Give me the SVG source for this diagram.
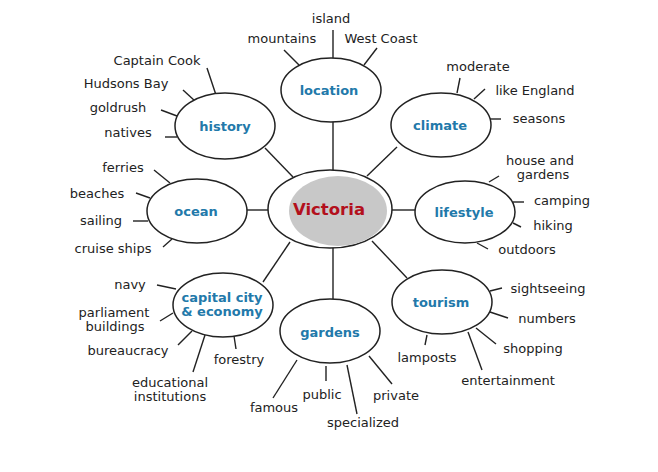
<svg xmlns="http://www.w3.org/2000/svg" width="658" height="472" viewBox="0 0 658 472">
<style>
.ln{stroke:#222;stroke-width:1.4;fill:none}
.hub{fill:#fff;stroke:#222;stroke-width:1.5}
.hl{font-family:"DejaVu Sans",Verdana,sans-serif;font-size:13px;font-weight:bold;fill:#2279aa;text-anchor:middle}
.lf{font-family:"DejaVu Sans",Verdana,sans-serif;font-size:13px;fill:#222;text-anchor:middle}
</style>
<rect width="658" height="472" fill="#fff"/>
<g id="connectors" class="ln">
<line x1="333" y1="121" x2="333" y2="171"/>
<line x1="265" y1="148" x2="293" y2="177"/>
<line x1="397" y1="147" x2="367" y2="176"/>
<line x1="247" y1="210" x2="269" y2="210"/>
<line x1="391" y1="210" x2="415" y2="210"/>
<line x1="263" y1="282" x2="290" y2="242"/>
<line x1="333" y1="247" x2="333" y2="300"/>
<line x1="407" y1="278" x2="372" y2="241"/>
<line x1="333" y1="30" x2="333" y2="58"/>
<line x1="284" y1="50" x2="299" y2="65"/>
<line x1="377" y1="48" x2="364" y2="65"/>
<line x1="207" y1="68" x2="216" y2="95"/>
<line x1="183" y1="90" x2="195" y2="101"/>
<line x1="161" y1="110" x2="177" y2="116"/>
<line x1="165" y1="137" x2="177" y2="137"/>
<line x1="460" y1="78" x2="457" y2="93"/>
<line x1="485" y1="89" x2="474" y2="99"/>
<line x1="490" y1="119" x2="501" y2="119"/>
<line x1="154" y1="170" x2="170" y2="183"/>
<line x1="136" y1="193" x2="150" y2="198"/>
<line x1="133" y1="221" x2="148" y2="221"/>
<line x1="163" y1="247" x2="172" y2="239"/>
<line x1="489" y1="182" x2="499" y2="176"/>
<line x1="513" y1="202" x2="524" y2="202"/>
<line x1="513" y1="223" x2="521" y2="227"/>
<line x1="477" y1="243" x2="488" y2="249"/>
<line x1="157" y1="285" x2="176" y2="289"/>
<line x1="160" y1="321" x2="173" y2="313"/>
<line x1="178" y1="345" x2="192" y2="331"/>
<line x1="193" y1="372" x2="205" y2="335"/>
<line x1="236" y1="349" x2="234" y2="336"/>
<line x1="297" y1="360" x2="273" y2="398"/>
<line x1="326" y1="366" x2="326" y2="381"/>
<line x1="347" y1="365" x2="357" y2="414"/>
<line x1="369" y1="356" x2="392" y2="384"/>
<line x1="490" y1="291" x2="502" y2="288"/>
<line x1="490" y1="312" x2="508" y2="318"/>
<line x1="476" y1="328" x2="496" y2="344"/>
<line x1="468" y1="332" x2="482" y2="370"/>
<line x1="427" y1="335" x2="425" y2="345"/>
</g>
<g id="victoria">
<ellipse class="hub" cx="330" cy="209" rx="62" ry="39"/>
<ellipse cx="338" cy="211" rx="49" ry="35" fill="#c8c8c8"/>
<text x="329" y="215" font-family="DejaVu Sans,Verdana,sans-serif" font-size="16.5" font-weight="bold" fill="#b3101c" text-anchor="middle">Victoria</text>
</g>
<g id="location">
<ellipse class="hub" cx="331" cy="90" rx="50" ry="32"/>
<text class="hl" x="329" y="95">location</text>
<text class="lf" x="331" y="23">island</text>
<text class="lf" x="282" y="43">mountains</text>
<text class="lf" x="381" y="43">West Coast</text>
</g>
<g id="history">
<ellipse class="hub" cx="225" cy="126" rx="50" ry="33"/>
<text class="hl" x="225" y="131">history</text>
<text class="lf" x="157" y="65">Captain Cook</text>
<text class="lf" x="126" y="88">Hudsons Bay</text>
<text class="lf" x="118" y="112">goldrush</text>
<text class="lf" x="128" y="137">natives</text>
</g>
<g id="climate">
<ellipse class="hub" cx="441" cy="125" rx="50" ry="32"/>
<text class="hl" x="440" y="130">climate</text>
<text class="lf" x="478" y="71">moderate</text>
<text class="lf" x="535" y="95">like England</text>
<text class="lf" x="539" y="123">seasons</text>
</g>
<g id="ocean">
<ellipse class="hub" cx="197" cy="211" rx="50" ry="32"/>
<text class="hl" x="196" y="216">ocean</text>
<text class="lf" x="123" y="172">ferries</text>
<text class="lf" x="97" y="198">beaches</text>
<text class="lf" x="101" y="225">sailing</text>
<text class="lf" x="113" y="253">cruise ships</text>
</g>
<g id="lifestyle">
<ellipse class="hub" cx="465" cy="212" rx="50" ry="31"/>
<text class="hl" x="464" y="217">lifestyle</text>
<text class="lf" x="540" y="165">house and</text>
<text class="lf" x="543" y="179">gardens</text>
<text class="lf" x="562" y="205">camping</text>
<text class="lf" x="553" y="230">hiking</text>
<text class="lf" x="527" y="254">outdoors</text>
</g>
<g id="capital">
<ellipse class="hub" cx="223" cy="305" rx="50" ry="32"/>
<text class="hl" x="222" y="302">capital city</text>
<text class="hl" x="222" y="316">&amp; economy</text>
<text class="lf" x="130" y="289">navy</text>
<text class="lf" x="114" y="317">parliament</text>
<text class="lf" x="115" y="331">buildings</text>
<text class="lf" x="128" y="355">bureaucracy</text>
<text class="lf" x="170" y="387">educational</text>
<text class="lf" x="170" y="401">institutions</text>
<text class="lf" x="239" y="364">forestry</text>
</g>
<g id="gardens">
<ellipse class="hub" cx="330" cy="331" rx="50" ry="32"/>
<text class="hl" x="330" y="337">gardens</text>
<text class="lf" x="274" y="412">famous</text>
<text class="lf" x="322" y="399">public</text>
<text class="lf" x="363" y="427">specialized</text>
<text class="lf" x="396" y="400">private</text>
</g>
<g id="tourism">
<ellipse class="hub" cx="442" cy="302" rx="50" ry="32"/>
<text class="hl" x="441" y="307">tourism</text>
<text class="lf" x="548" y="293">sightseeing</text>
<text class="lf" x="547" y="323">numbers</text>
<text class="lf" x="533" y="353">shopping</text>
<text class="lf" x="508" y="385">entertainment</text>
<text class="lf" x="427" y="362">lamposts</text>
</g>
</svg>
